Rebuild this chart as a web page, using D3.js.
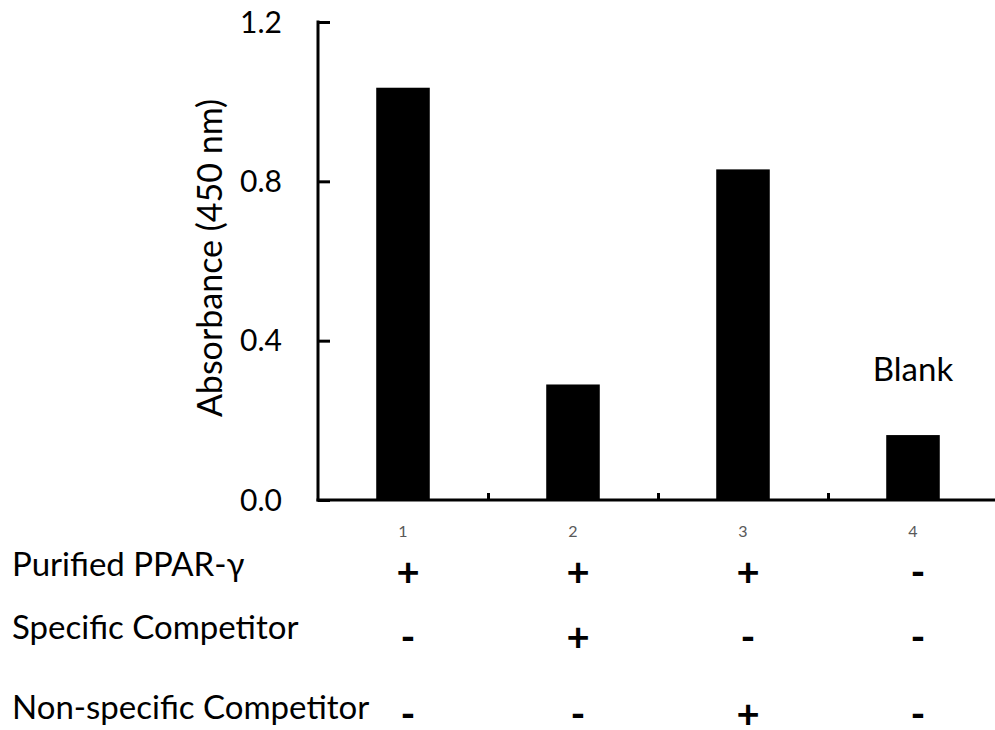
<!DOCTYPE html>
<html>
<head>
<meta charset="utf-8">
<script src="https://cdn.jsdelivr.net/npm/d3@7"></script>
<style>
  body { margin: 0; background: #fff; }
  text { font-family: Lato, "Open Sans", sans-serif; }
</style>
</head>
<body>
<svg id="chart" width="995" height="730"></svg>
<script>
var lanes = ["1", "2", "3", "4"]
var absorbance = [1.035, 0.29, 0.83, 0.163]
var yTicks = [0.0, 0.4, 0.8, 1.2]
var rowLabels = ["Purified PPAR-γ", "Specific Competitor", "Non-specific Competitor"]
var rowSigns = [
  ["+", "+", "+", "-"],
  ["-", "+", "-", "-"],
  ["-", "-", "+", "-"]
]
var blankLabel = "Blank"

var dimensions = {
  width: 995,
  height: 730,
  margin: { top: 22, bottom: 230, right: -3, left: 318 }
}

var svg = d3.select("#chart")

var xScale = d3.scaleBand()
  .domain(lanes)
  .range([dimensions.margin.left, dimensions.width - dimensions.margin.right])
  .paddingInner(0.685)
  .paddingOuter(0.3425)

var yScale = d3.scaleLinear()
  .domain([0, 1.2])
  .range([dimensions.height - dimensions.margin.bottom, dimensions.margin.top])

var y0 = yScale(0)

// bars
svg.append("g")
  .selectAll("rect")
  .data(absorbance)
  .enter().append("rect")
  .attr("x", (d, i) => xScale(lanes[i]))
  .attr("y", d => yScale(d))
  .attr("width", xScale.bandwidth())
  .attr("height", d => y0 - yScale(d))
  .attr("fill", "#000")

// y axis, ticks pointing inward
var yAxisGen = d3.axisRight(yScale)
  .tickValues(yTicks)
  .tickSize(12)
  .tickFormat("")
var yAxis = svg.append("g")
  .attr("transform", `translate(${dimensions.margin.left},0)`)
  .call(yAxisGen)
yAxis.select(".domain").remove()
yAxis.selectAll(".tick line").attr("stroke", "#000").attr("stroke-width", 3)
yAxis.append("line")
  .attr("x1", 0).attr("x2", 0)
  .attr("y1", yScale(1.2) - 1.5).attr("y2", y0 + 1.5)
  .attr("stroke", "#000").attr("stroke-width", 3)

svg.append("g")
  .selectAll("text")
  .data(yTicks)
  .enter().append("text")
  .attr("x", 282)
  .attr("y", d => yScale(d))
  .attr("dy", "0.36em")
  .attr("text-anchor", "end")
  .attr("font-size", 30)
  .attr("fill", "#000")
  .text(d => d.toFixed(1))

// x axis with small upward ticks between lanes
var x0 = dimensions.margin.left
var lanePos = d3.scaleLinear()
  .domain([0, lanes.length])
  .range(xScale.range())
var xAxisGen = d3.axisTop(lanePos)
  .tickValues(d3.range(1, lanes.length))
  .tickSize(7)
  .tickSizeOuter(0)
  .tickFormat("")
var xAxis = svg.append("g")
  .attr("transform", `translate(0,${y0})`)
  .call(xAxisGen)
xAxis.select(".domain").attr("stroke", "#000").attr("stroke-width", 3)
  .attr("d", `M${x0 - 1.5},0H${dimensions.width + 5}`)
xAxis.selectAll(".tick line").attr("stroke", "#000").attr("stroke-width", 3)

// lane numbers
svg.append("g")
  .selectAll("text")
  .data(lanes)
  .enter().append("text")
  .attr("x", d => xScale(d) + xScale.bandwidth() / 2)
  .attr("y", 531)
  .attr("dy", "0.36em")
  .attr("text-anchor", "middle")
  .attr("font-size", 16)
  .attr("fill", "#595959")
  .text(d => d)

// y axis title
svg.append("text")
  .attr("transform", "translate(210,258) rotate(-90)")
  .attr("dy", "0.35em")
  .attr("text-anchor", "middle")
  .attr("font-size", 34)
  .attr("fill", "#000")
  .text("Absorbance (450 nm)")

// Blank label over lane 4
svg.append("text")
  .attr("x", xScale("4") + xScale.bandwidth() / 2)
  .attr("y", 369)
  .attr("dy", "0.36em")
  .attr("text-anchor", "middle")
  .attr("font-size", 33)
  .attr("fill", "#000")
  .text(blankLabel)

// condition rows
var labelY = [564, 627, 707]
var signY = [573, 638, 715]
var rows = svg.append("g")
  .selectAll("g")
  .data(rowLabels)
  .enter().append("g")

rows.append("text")
  .attr("x", 12)
  .attr("y", (d, i) => labelY[i])
  .attr("dy", "0.36em")
  .attr("font-size", 33)
  .attr("fill", "#000")
  .text(d => d)

rows.selectAll("text.sign")
  .data((d, i) => rowSigns[i].map(s => ({ s: s, row: i })))
  .enter().append("text")
  .attr("class", "sign")
  .attr("x", (d, j) => xScale(lanes[j]) + xScale.bandwidth() / 2 + 5)
  .attr("y", d => signY[d.row])
  .attr("dy", "0.33em")
  .attr("text-anchor", "middle")
  .attr("font-size", 40)
  .attr("font-weight", "bold")
  .attr("fill", "#000")
  .text(d => d.s)
</script>
</body>
</html>
